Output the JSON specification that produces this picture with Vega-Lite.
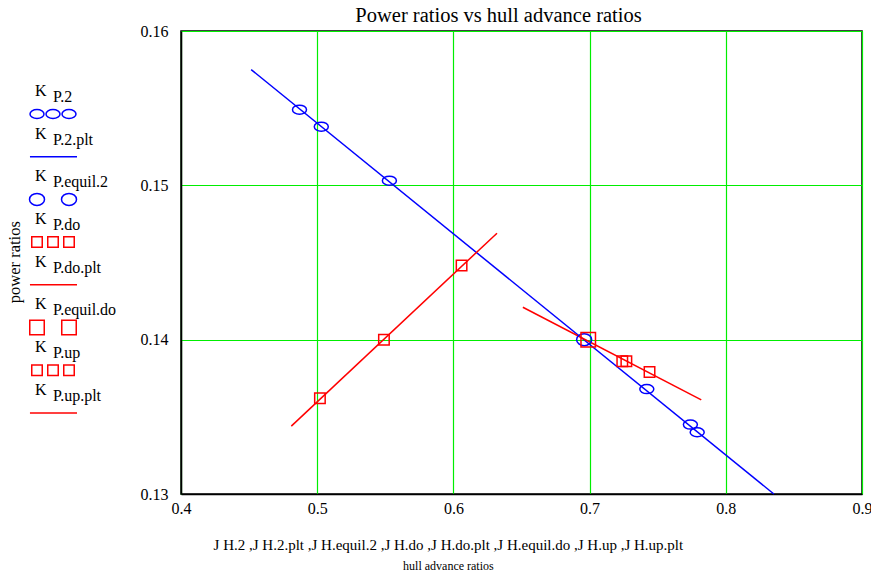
{
  "$schema": "https://vega.github.io/schema/vega-lite/v6.json",
  "padding": {"left": 0, "top": 4, "right": 0, "bottom": 0},
  "spacing": 9,
  "config": {
    "font": "Liberation Serif",
    "view": {"stroke": "black", "strokeWidth": 1.5},
    "axis": {"labelFont": "Liberation Serif", "labelFontSize": 16, "labelColor": "black", "ticks": false, "domainColor": "black", "domainWidth": 1.5, "gridColor": "#00ee00", "gridOpacity": 1, "gridWidth": 1.2}
  },
  "title": {
    "text": "J H.2 ,J H.2.plt ,J H.equil.2 ,J H.do ,J H.do.plt ,J H.equil.do ,J H.up ,J H.up.plt",
    "subtitle": "hull advance ratios",
    "orient": "bottom",
    "anchor": "middle",
    "font": "Liberation Serif",
    "fontSize": 15,
    "fontWeight": "normal",
    "color": "black",
    "subtitleFont": "Liberation Serif",
    "subtitleFontSize": 12,
    "subtitleColor": "black",
    "subtitlePadding": 8,
    "offset": 21,
    "dx": 12
  },
  "datasets": {
    "pts": [
      {"series": "K_P.2", "x": 0.487, "y": 0.1549},
      {"series": "K_P.2", "x": 0.503, "y": 0.1538},
      {"series": "K_P.2", "x": 0.553, "y": 0.1503},
      {"series": "K_P.2", "x": 0.742, "y": 0.1368},
      {"series": "K_P.2", "x": 0.774, "y": 0.1345},
      {"series": "K_P.2", "x": 0.779, "y": 0.1340},
      {"series": "K_P.equil.2", "x": 0.696, "y": 0.1400},
      {"series": "K_P.do", "x": 0.502, "y": 0.1362},
      {"series": "K_P.do", "x": 0.549, "y": 0.1400},
      {"series": "K_P.do", "x": 0.606, "y": 0.1448},
      {"series": "K_P.equil.do", "x": 0.699, "y": 0.1400},
      {"series": "K_P.up", "x": 0.724, "y": 0.1386},
      {"series": "K_P.up", "x": 0.727, "y": 0.1386},
      {"series": "K_P.up", "x": 0.744, "y": 0.1379}
    ],
    "lines": [
      {"series": "K_P.2.plt", "x": 0.4515, "y": 0.1575},
      {"series": "K_P.2.plt", "x": 0.8353, "y": 0.1300},
      {"series": "K_P.do.plt", "x": 0.481, "y": 0.1344},
      {"series": "K_P.do.plt", "x": 0.632, "y": 0.1469},
      {"series": "K_P.up.plt", "x": 0.651, "y": 0.1421},
      {"series": "K_P.up.plt", "x": 0.782, "y": 0.1361}
    ],
    "legendItems": [
      {"item": 0, "label": "P.2"},
      {"item": 1, "label": "P.2.plt"},
      {"item": 2, "label": "P.equil.2"},
      {"item": 3, "label": "P.do"},
      {"item": 4, "label": "P.do.plt"},
      {"item": 5, "label": "P.equil.do"},
      {"item": 6, "label": "P.up"},
      {"item": 7, "label": "P.up.plt"}
    ],
    "legendSyms": [
      {"series": "K_P.2", "item": 0, "slot": 0},
      {"series": "K_P.2", "item": 0, "slot": 1},
      {"series": "K_P.2", "item": 0, "slot": 2},
      {"series": "K_P.2.plt", "item": 1, "slot": -0.44},
      {"series": "K_P.2.plt", "item": 1, "slot": 2.5},
      {"series": "K_P.equil.2", "item": 2, "slot": 0},
      {"series": "K_P.equil.2", "item": 2, "slot": 2},
      {"series": "K_P.do", "item": 3, "slot": 0},
      {"series": "K_P.do", "item": 3, "slot": 1},
      {"series": "K_P.do", "item": 3, "slot": 2},
      {"series": "K_P.do.plt", "item": 4, "slot": -0.44},
      {"series": "K_P.do.plt", "item": 4, "slot": 2.5},
      {"series": "K_P.equil.do", "item": 5, "slot": 0},
      {"series": "K_P.equil.do", "item": 5, "slot": 2},
      {"series": "K_P.up", "item": 6, "slot": 0},
      {"series": "K_P.up", "item": 6, "slot": 1},
      {"series": "K_P.up", "item": 6, "slot": 2},
      {"series": "K_P.up.plt", "item": 7, "slot": -0.44},
      {"series": "K_P.up.plt", "item": 7, "slot": 2.5}
    ],
    "yTitle": [{"text": "power ratios"}]
  },
  "hconcat": [
    {
      "width": 130,
      "height": 463,
      "view": {"stroke": null},
      "encoding": {
        "x": {"type": "quantitative", "scale": {"domain": [-2.3125, 5.8125], "nice": false, "zero": false}, "axis": null},
        "y": {"type": "quantitative", "scale": {"domain": [-1.944, 8.9], "nice": false, "zero": false, "reverse": true}, "axis": null}
      },
      "layer": [
        {
          "data": {"name": "yTitle"},
          "mark": {"type": "text", "angle": 270, "fontSize": 16.5, "align": "center", "baseline": "middle", "color": "black"},
          "encoding": {"x": {"datum": -1.4}, "y": {"datum": 3.47}, "text": {"field": "text"}}
        },
        {
          "data": {"name": "legendItems"},
          "mark": {"type": "text", "fontSize": 16, "align": "left", "baseline": "alphabetic", "dy": -18, "color": "black"},
          "encoding": {"x": {"datum": -0.12}, "y": {"field": "item"}, "text": {"value": "K"}}
        },
        {
          "data": {"name": "legendItems"},
          "mark": {"type": "text", "fontSize": 16, "align": "left", "baseline": "alphabetic", "dy": -12, "color": "black"},
          "encoding": {"x": {"datum": 1}, "y": {"field": "item"}, "text": {"field": "label"}}
        },
        {
          "data": {"name": "legendSyms"},
          "transform": [{"filter": "datum.series === 'K_P.2'"}],
          "mark": {"type": "point", "shape": "M-1,0A1,0.65,0,1,0,1,0A1,0.65,0,1,0,-1,0Z", "size": 196, "filled": false, "color": "#0000ff", "strokeWidth": 1.5, "opacity": 1},
          "encoding": {"x": {"field": "slot"}, "y": {"field": "item"}}
        },
        {
          "data": {"name": "legendSyms"},
          "transform": [{"filter": "datum.series === 'K_P.equil.2'"}],
          "mark": {"type": "point", "shape": "M-1,0A1,0.8,0,1,0,1,0A1,0.8,0,1,0,-1,0Z", "size": 225, "filled": false, "color": "#0000ff", "strokeWidth": 1.5, "opacity": 1},
          "encoding": {"x": {"field": "slot"}, "y": {"field": "item"}}
        },
        {
          "data": {"name": "legendSyms"},
          "transform": [{"filter": "datum.series === 'K_P.do' || datum.series === 'K_P.up'"}],
          "mark": {"type": "point", "shape": "square", "size": 110, "filled": false, "color": "#ff0000", "strokeWidth": 1.5, "opacity": 1},
          "encoding": {"x": {"field": "slot"}, "y": {"field": "item"}}
        },
        {
          "data": {"name": "legendSyms"},
          "transform": [{"filter": "datum.series === 'K_P.equil.do'"}],
          "mark": {"type": "point", "shape": "square", "size": 210, "filled": false, "color": "#ff0000", "strokeWidth": 1.5, "opacity": 1},
          "encoding": {"x": {"field": "slot"}, "y": {"field": "item"}}
        },
        {
          "data": {"name": "legendSyms"},
          "transform": [{"filter": "datum.series === 'K_P.2.plt'"}],
          "mark": {"type": "line", "color": "#0000ff", "strokeWidth": 1.5},
          "encoding": {"x": {"field": "slot"}, "y": {"field": "item"}, "detail": {"field": "series"}}
        },
        {
          "data": {"name": "legendSyms"},
          "transform": [{"filter": "datum.series === 'K_P.do.plt' || datum.series === 'K_P.up.plt'"}],
          "mark": {"type": "line", "color": "#ff0000", "strokeWidth": 1.5},
          "encoding": {"x": {"field": "slot"}, "y": {"field": "item"}, "detail": {"field": "series"}}
        }
      ]
    },
    {
      "width": 681,
      "height": 463,
      "title": {"text": "Power ratios vs hull advance ratios", "font": "Liberation Serif", "fontSize": 20.5, "fontWeight": "normal", "color": "black", "dx": -23, "offset": -3},
      "encoding": {
        "x": {"field": "x", "type": "quantitative", "scale": {"domain": [0.4, 0.9], "nice": false, "zero": false}, "axis": {"title": null, "values": [0.4, 0.5, 0.6, 0.7, 0.8, 0.9], "format": ".1f", "labelPadding": 6, "labelFlush": false}},
        "y": {"field": "y", "type": "quantitative", "scale": {"domain": [0.13, 0.16], "nice": false, "zero": false}, "axis": {"title": null, "values": [0.13, 0.14, 0.15, 0.16], "format": ".2f", "labelPadding": 13, "labelFlush": false}}
      },
      "layer": [
        {
          "data": {"name": "lines"},
          "transform": [{"filter": "datum.series === 'K_P.2.plt'"}],
          "mark": {"type": "line", "color": "#0000ff", "strokeWidth": 1.5},
          "encoding": {"detail": {"field": "series"}}
        },
        {
          "data": {"name": "lines"},
          "transform": [{"filter": "datum.series !== 'K_P.2.plt'"}],
          "mark": {"type": "line", "color": "#ff0000", "strokeWidth": 1.5},
          "encoding": {"detail": {"field": "series"}}
        },
        {
          "data": {"name": "pts"},
          "transform": [{"filter": "datum.series === 'K_P.2'"}],
          "mark": {"type": "point", "shape": "M-1,0A1,0.65,0,1,0,1,0A1,0.65,0,1,0,-1,0Z", "size": 196, "filled": false, "color": "#0000ff", "strokeWidth": 1.5, "opacity": 1}
        },
        {
          "data": {"name": "pts"},
          "transform": [{"filter": "datum.series === 'K_P.equil.2'"}],
          "mark": {"type": "point", "shape": "M-1,0A1,0.8,0,1,0,1,0A1,0.8,0,1,0,-1,0Z", "size": 225, "filled": false, "color": "#0000ff", "strokeWidth": 1.5, "opacity": 1}
        },
        {
          "data": {"name": "pts"},
          "transform": [{"filter": "datum.series === 'K_P.do' || datum.series === 'K_P.up'"}],
          "mark": {"type": "point", "shape": "square", "size": 110, "filled": false, "color": "#ff0000", "strokeWidth": 1.5, "opacity": 1}
        },
        {
          "data": {"name": "pts"},
          "transform": [{"filter": "datum.series === 'K_P.equil.do'"}],
          "mark": {"type": "point", "shape": "square", "size": 210, "filled": false, "color": "#ff0000", "strokeWidth": 1.5, "opacity": 1}
        }
      ]
    }
  ]
}
